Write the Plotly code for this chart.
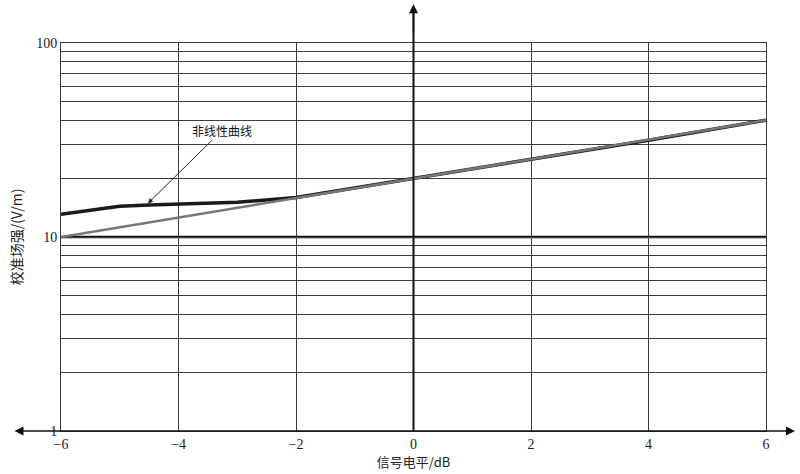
#校准场强 vs 信号电平 - linear / nonlinear calibration curves
import math
import plotly.graph_objects as go

# %% data
level_db = [-6, -4, -2, 0, 2, 4, 6]
linear_field = [10, 12.6, 15.9, 20, 25.2, 31.7, 40]

nonlin_db = [-6, -5, -4.5, -3, -2, 0, 2, 4, 6]
nonlin_field = [13.1, 14.4, 14.6, 15.1, 16.0, 20, 25.2, 31.5, 40]

x_ticks = [-6, -4, -2, 0, 2, 4, 6]
y_grid = [1, 2, 3, 4, 5, 6, 7, 8, 9, 10, 20, 30, 40, 50, 60, 70, 80, 90, 100]
y_labels = {1: "1", 10: "10", 100: "100"}
ref_level = 10

note_text = "非线性曲线"
note_x, note_y = -4.52, 14.9

SERIF = "Liberation Serif"
CJK = "Noto Sans CJK SC"

# %% figure
fig = go.Figure()
fig.add_trace(go.Scatter(x=nonlin_db, y=nonlin_field, mode="lines",
                         line=dict(color="#1a1a1a", width=3.5), showlegend=False))
fig.add_trace(go.Scatter(x=level_db, y=linear_field, mode="lines",
                         line=dict(color="#777777", width=2.5), showlegend=False))

# heavy line at 10 V/m
fig.add_shape(type="line", xref="paper", x0=0, x1=1, yref="y", y0=ref_level, y1=ref_level,
              line=dict(color="#111", width=2.5), layer="below")
# vertical axis through 0 dB with arrow
fig.add_shape(type="line", xref="x", x0=0, x1=0, yref="paper", y0=0, y1=1.09,
              line=dict(color="#111", width=2))
fig.add_annotation(x=0, y=1.10, xref="x", yref="paper", ax=0, ay=30, text="",
                   showarrow=True, arrowhead=2, arrowsize=1.2, arrowwidth=1.5, arrowcolor="#111")
# horizontal axis with arrows
fig.add_annotation(x=-0.066, y=0, xref="paper", yref="paper", ax=782, ay=0, text="",
                   showarrow=True, arrowhead=2, arrowside="end+start", arrowsize=1.2,
                   arrowwidth=1.5, arrowcolor="#111")

# log axis -> annotation y in log10 units
fig.add_annotation(x=note_x, y=math.log10(note_y), xref="x", yref="y", text=note_text,
                   ax=74, ay=-73, showarrow=True, arrowhead=2, arrowsize=1, arrowwidth=1,
                   arrowcolor="#222", font=dict(family=CJK, size=12, color="#111"))

grid = "#3c3c3c"
fig.update_xaxes(range=[-6, 6], tickvals=x_ticks,
                 ticktext=[str(v).replace("-", "\u2212") for v in x_ticks],
                 showgrid=True, gridcolor=grid, gridwidth=1, zeroline=False,
                 showline=True, linecolor=grid, mirror=True, ticks="", automargin=False,
                 tickfont=dict(family=SERIF, size=14, color="#222222"),
                 title=dict(text="信号电平/dB", font=dict(family=CJK, size=13, color="#222222"),
                            standoff=6))
fig.update_yaxes(type="log", range=[0, 2], tickvals=y_grid,
                 ticktext=[y_labels.get(v, "") for v in y_grid],
                 showgrid=True, gridcolor=grid, gridwidth=1, zeroline=False,
                 showline=True, linecolor=grid, mirror=True, ticks="", automargin=False,
                 tickfont=dict(family=SERIF, size=14, color="#222222"),
                 title=dict(text="校准场强/(V/m)", font=dict(family=CJK, size=14, color="#222222"),
                            standoff=10))

fig.update_layout(width=800, height=474, margin=dict(l=61, r=34, t=43, b=43),
                  plot_bgcolor="white", paper_bgcolor="white")

fig.write_html("out.html", config={"displayModeBar": False},
               post_script="document.body.style.margin='0';")
